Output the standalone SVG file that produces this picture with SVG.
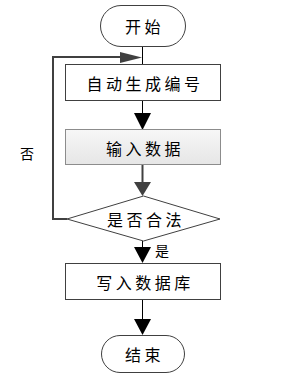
<svg xmlns="http://www.w3.org/2000/svg" width="294" height="378" viewBox="0 0 294 378">
<style>
.t{font-family:"Noto Sans CJK SC","Noto Sans",sans-serif;font-size:16px;fill:#000;text-anchor:middle;dominant-baseline:central;letter-spacing:3.5px}
.s{font-family:"Noto Sans CJK SC","Noto Sans",sans-serif;font-size:14px;fill:#000;text-anchor:middle;dominant-baseline:central}
.box{fill:#fff;stroke:#404040;stroke-width:1}
.c{fill:none;stroke:#000;stroke-width:1}
.cg{fill:none;stroke:#404040;stroke-width:2}
</style>
<defs>
<linearGradient id="g" x1="0" y1="0" x2="0" y2="1">
<stop offset="0" stop-color="#f7f7f7"/>
<stop offset="1" stop-color="#e6e6e6"/>
</linearGradient>
<marker id="ab" viewBox="0 0 10 10" refX="10" refY="5" markerWidth="10" markerHeight="10" markerUnits="userSpaceOnUse" orient="auto"><path d="M0,0 L10,5 L0,10 Z" fill="#000"/></marker>
</defs>
<g id="connectors">
<line class="c" x1="142.5" y1="47" x2="142.5" y2="64"/>
<line class="c" x1="142.5" y1="100" x2="142.5" y2="114"/>
<path d="M134,113 L151,113 L142.5,130 Z" fill="#000"/>
<line class="cg" x1="142.5" y1="165" x2="142.5" y2="183"/>
<path d="M134,182 L151,182 L142.5,196 Z" fill="#404040"/>
<polyline class="cg" points="67,219 53,219 53,57 121,57"/>
<path d="M120,52 L142,57.5 L120,63 Z" fill="#404040"/>
<line class="c" x1="142.5" y1="241" x2="142.5" y2="248"/>
<path d="M134,247 L151,247 L142.5,263 Z" fill="#000"/>
<line class="c" x1="142.5" y1="300" x2="142.5" y2="320"/>
<path d="M134,319 L151,319 L142.5,335 Z" fill="#000"/>
<text class="s" x="27" y="153">否</text>
<text class="s" x="162" y="250">是</text>
</g>
<g id="start">
<rect class="box" x="100.5" y="5.5" width="85" height="41" rx="20.5" ry="20.5"/>
<text class="t" x="144.5" y="25.5">开始</text>
</g>
<g id="gen">
<rect class="box" x="65.5" y="64.5" width="155" height="36"/>
<text class="t" x="145" y="83">自动生成编号</text>
</g>
<g id="input">
<rect x="65.5" y="129.5" width="155" height="35" fill="url(#g)" stroke="#8c8c8c" stroke-width="1"/>
<text class="t" x="145" y="147.5">输入数据</text>
</g>
<g id="check">
<polygon class="box" points="143.5,196 220,219 143.5,241 67,219"/>
<text class="t" x="146" y="219">是否合法</text>
</g>
<g id="write">
<rect class="box" x="65.5" y="263.5" width="155" height="36"/>
<text class="t" x="145" y="282">写入数据库</text>
</g>
<g id="end">
<rect class="box" x="101.5" y="335.5" width="83" height="37" rx="18.5" ry="18.5"/>
<text class="t" x="144.5" y="354">结束</text>
</g>
</svg>
